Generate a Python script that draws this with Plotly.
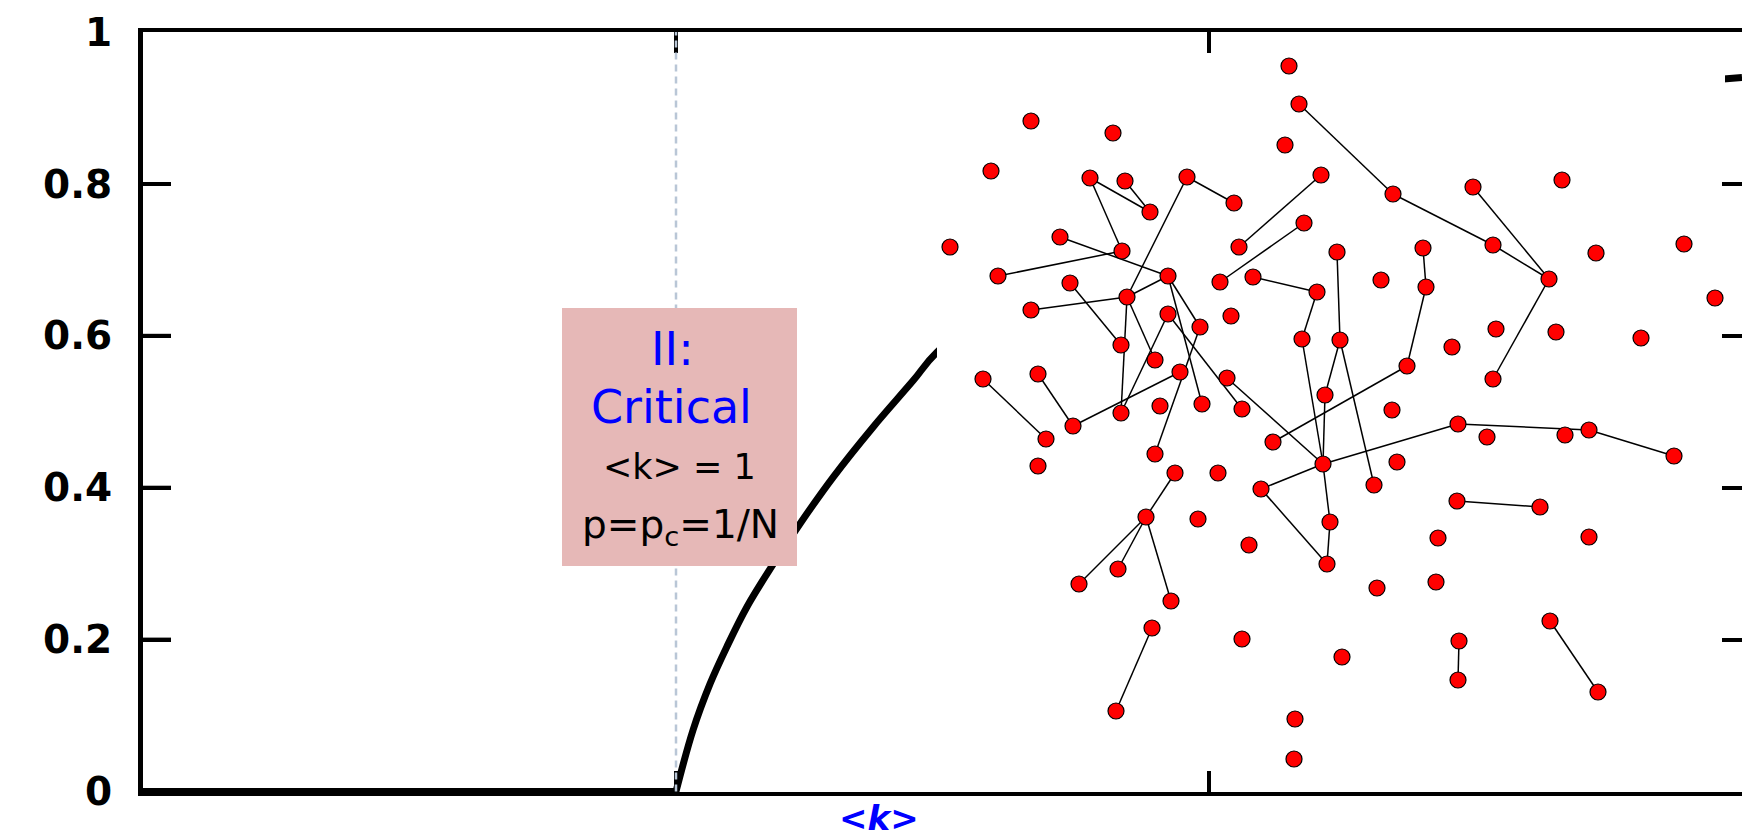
import plotly.graph_objects as go

# ---------------- data ----------------
y_tick_vals = [0, 0.2, 0.4, 0.6, 0.8, 1]
y_tick_text = ["0", "0.2", "0.4", "0.6", "0.8", "1"]
x_tick_vals = [1, 2]

# giant-component curve S(<k>)
flat_k = [0.0, 1.0]
flat_s = [0.0, 0.0]
rise_k = [1.0, 1.032, 1.064, 1.095, 1.133, 1.183, 1.233, 1.295, 1.37, 1.445, 1.489, 1.75, 2.0, 2.5, 3.0]
rise_s = [0.0, 0.081, 0.142, 0.19, 0.243, 0.30, 0.353, 0.414, 0.48, 0.541, 0.578, 0.72, 0.81, 0.90, 0.94]

# network inset (image coordinates inside the inset, y downwards)
node_x = [352, 362, 348, 94, 176, 54, 153, 188, 250, 213, 297, 384, 13, 123, 185, 302, 367, 400, 61, 231,
          283, 316, 380, 133, 190, 94, 231, 294, 263, 184, 218, 365, 403, 46, 101, 243, 290, 388, 184, 223,
          265, 305, 136, 456, 470, 536, 625, 556, 612, 659, 747, 778, 486, 489, 444, 559, 619, 704, 515, 556,
          455, 386, 109, 101, 218, 336, 238, 281, 324, 209, 261, 312, 393, 390, 181, 142, 234, 215, 305, 405,
          179, 358, 357, 521, 550, 628, 652, 737, 460, 437, 520, 603, 501, 652, 440, 499, 613, 522, 521, 661]
node_y = [11, 49, 90, 66, 78, 116, 123, 126, 122, 157, 148, 120, 192, 182, 196, 192, 168, 197, 221, 221,
          227, 222, 237, 228, 242, 255, 259, 261, 272, 290, 305, 284, 285, 324, 319, 317, 323, 340, 358, 351,
          349, 354, 371, 139, 311, 132, 125, 190, 224, 198, 189, 243, 193, 232, 225, 274, 277, 283, 292, 324,
          355, 409, 384, 411, 399, 387, 418, 418, 434, 462, 464, 490, 467, 509, 514, 529, 546, 573, 584, 602,
          656, 664, 704, 369, 382, 380, 375, 401, 407, 430, 446, 452, 483, 482, 533, 527, 566, 586, 625, 637]
edge_src = [1, 6, 6, 7, 8, 8, 11, 16, 13, 18, 19, 25, 23, 24, 24, 19, 19, 26, 26, 28, 35, 34, 33, 36, 21, 22, 17,
            32, 31, 37, 65, 61, 32, 43, 47, 45, 48, 52, 53, 61, 61, 72, 68, 66, 69, 69, 69, 77, 83, 86, 90, 97, 96]
edge_dst = [43, 14, 9, 9, 10, 24, 15, 20, 19, 14, 24, 24, 29, 38, 30, 28, 40, 38, 41, 64, 42, 42, 62, 61, 22, 31,
            32, 37, 61, 61, 44, 83, 89, 47, 48, 48, 59, 53, 44, 68, 72, 73, 73, 69, 74, 75, 76, 80, 86, 87, 91, 98, 99]

INSET_W, INSET_H = 788, 713

# ---------------- layout helpers ----------------
# the page body adds an 8px margin, so the figure is drawn 8px smaller and
# all reference pixel positions are shifted by that offset
OFF = 8
W, H = 1750 - OFF, 837 - OFF
ML, MR, MT, MB = 143 - OFF, 8, 32 - OFF, 35
PW, PH = W - ML - MR, H - MT - MB
Y0_PIX = 791.5  # reference pixel row of S = 0
LEFT_TICK_LEN = 28
X_MAX = 3.0


def fx(px):
    return (px - OFF - ML) / PW


def fy(py):
    return (H - MB - (py - OFF)) / PH


fig = go.Figure()

# placeholder trace so the frame axes are drawn
fig.add_trace(go.Scatter(x=[None], y=[None], xaxis="x", yaxis="y", showlegend=False, hoverinfo="skip"))

# curve (on its own axes so the line at S=0 is not clipped)
fig.add_trace(go.Scatter(x=flat_k, y=flat_s, mode="lines", xaxis="x2", yaxis="y2",
                         line=dict(color="black", width=7), hoverinfo="skip", showlegend=False))
fig.add_trace(go.Scatter(x=rise_k, y=rise_s, mode="lines", xaxis="x2", yaxis="y2",
                         line=dict(color="black", width=7, shape="spline", smoothing=1.0),
                         hoverinfo="skip", showlegend=False))

# network inset: white panel, edges, nodes
fig.add_trace(go.Scatter(x=[0, INSET_W, INSET_W, 0, 0], y=[0, 0, INSET_H, INSET_H, 0],
                         xaxis="x3", yaxis="y3", mode="lines", fill="toself",
                         fillcolor="white", line=dict(width=0, color="white"),
                         hoverinfo="skip", showlegend=False))
ex, ey = [], []
for a, b in zip(edge_src, edge_dst):
    ex += [node_x[a], node_x[b], None]
    ey += [node_y[a], node_y[b], None]
fig.add_trace(go.Scatter(x=ex, y=ey, xaxis="x3", yaxis="y3", mode="lines",
                         line=dict(color="black", width=1.5), hoverinfo="skip", showlegend=False))
fig.add_trace(go.Scatter(x=node_x, y=node_y, xaxis="x3", yaxis="y3", mode="markers",
                         marker=dict(size=16, color="#ff0000", line=dict(color="black", width=1.2)),
                         hoverinfo="skip", showlegend=False))

# left-hand inside tick marks, drawn in the last (topmost) subplot at the y tick values
tick_len_units = LEFT_TICK_LEN / PW * X_MAX
tx, ty = [], []
for v in y_tick_vals[1:-1]:
    tx += [0, tick_len_units, None]
    ty += [v, v, None]
fig.add_trace(go.Scatter(x=tx, y=ty, xaxis="x4", yaxis="y4", mode="lines",
                         line=dict(color="black", width=4), hoverinfo="skip", showlegend=False))

ydom0 = fy(Y0_PIX)
d = (837 - 35 - Y0_PIX) / (Y0_PIX - 32)

fig.update_layout(
    width=W, height=H,
    margin=dict(l=ML, r=MR, t=MT, b=MB, autoexpand=False),
    paper_bgcolor="white", plot_bgcolor="rgba(0,0,0,0)",
    showlegend=False,
    xaxis=dict(domain=[0, 1], range=[0, X_MAX], anchor="y", showline=True, linewidth=4, linecolor="black",
               mirror="ticks", ticks="inside", ticklen=21, tickwidth=4, tickcolor="black",
               tickvals=x_tick_vals, showticklabels=False, showgrid=False, zeroline=False),
    yaxis=dict(domain=[ydom0, 1], range=[0, 1], anchor="x", showline=True, linewidth=5, linecolor="black",
               mirror=True, ticks="inside", ticklen=LEFT_TICK_LEN, tickwidth=4, tickcolor="black",
               tickvals=y_tick_vals, ticktext=y_tick_text, ticklabelstandoff=18,
               tickfont=dict(family="DejaVu Sans", size=39, color="black", weight="bold"),
               showgrid=False, zeroline=False),
    xaxis4=dict(domain=[0, 1], range=[0, X_MAX], anchor="y4", visible=False),
    yaxis4=dict(domain=[ydom0, 1], range=[0, 1], anchor="x4", side="right", ticks="inside", ticklen=20,
                tickwidth=4, tickcolor="black", tickvals=y_tick_vals, showticklabels=False,
                showline=False, showgrid=False, zeroline=False),
    xaxis2=dict(domain=[0, 1], range=[0, X_MAX], anchor="y2", visible=False),
    yaxis2=dict(domain=[0, 1], range=[-d, 1], anchor="x2", visible=False),
    xaxis3=dict(domain=[fx(937), fx(937 + INSET_W)], range=[0, INSET_W], anchor="y3", visible=False),
    yaxis3=dict(domain=[fy(55 + INSET_H), fy(55)], range=[INSET_H, 0], anchor="x3", visible=False),
)

# dashed critical line and text box
fig.add_shape(type="line", xref="x", yref="paper", x0=1, x1=1, y0=ydom0, y1=1,
              line=dict(color="#b9c6d6", width=2.5, dash="7px,5px"), layer="above")
fig.add_shape(type="rect", xref="paper", yref="paper", x0=fx(562), x1=fx(797), y0=fy(566), y1=fy(308),
              fillcolor="#E6B8B7", line=dict(width=0), layer="above")

texts = [
    ("II:", 672, 349, 46, "#0000ff"),
    ("Critical", 671, 407, 46, "#0000ff"),
    ("&lt;k&gt; = 1", 679, 467, 35, "black"),
    ("p=p<sub>c</sub>=1/N", 680, 527, 39, "black"),
]
for t, px, py, s, c in texts:
    fig.add_annotation(text=t, x=fx(px), y=fy(py), xref="paper", yref="paper", showarrow=False,
                       xanchor="center", yanchor="middle",
                       font=dict(family="DejaVu Sans", size=s, color=c))

fig.add_annotation(text="<b>&lt;<i>k</i>&gt;</b>", x=fx(879), y=fy(818), xref="paper", yref="paper",
                   showarrow=False, xanchor="center", yanchor="middle",
                   font=dict(family="DejaVu Sans", size=34, color="#0000ff"))

fig.write_html("out.html")
